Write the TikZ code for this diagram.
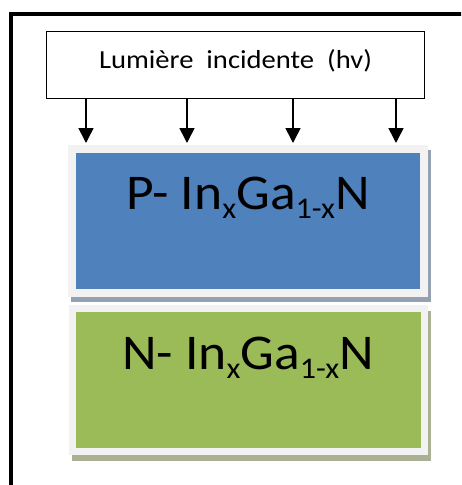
\documentclass[tikz,border=0pt]{standalone}
\usepackage{fontspec}
\setmainfont{Carlito}
\newfontfamily\lightfont[FakeStretch=1.1]{Carlito}
\newfontfamily\layerfont[FakeStretch=1.07]{Carlito}
\usetikzlibrary{arrows.meta,shadows}

\definecolor{ptype}{HTML}{4F81BD}
\definecolor{ntype}{HTML}{9BBB59}
\definecolor{layerframe}{HTML}{F2F2F2}
\definecolor{pshade}{HTML}{95A1B1}
\definecolor{nshade}{HTML}{A9B093}

\newcommand{\lowidx}[1]{\raisebox{-9pt}{\fontsize{30}{30}\selectfont #1}}

\begin{document}
\begin{tikzpicture}[
            x=1pt, y=-1pt,
            >={Triangle[length=15pt,width=15pt]},
            lightbox/.style={draw, line width=1.2pt, minimum width=378pt, minimum height=67pt, inner sep=0pt, text height=16.7pt, text depth=10.7pt, font=\lightfont\fontsize{26}{26}\selectfont},
            layerbox/.style={draw=layerframe, line width=8pt, minimum width=352pt, minimum height=144pt, inner sep=0pt},
            layertext/.style={anchor=base, inner sep=0pt, font=\layerfont\fontsize{50}{50}\selectfont},
            ray/.style={->, line width=1.6pt, shorten >=2pt}
        ]
        \useasboundingbox (0,0) rectangle (461,485);

        %Frame

        \begin{scope}
            \clip (0,0) rectangle (461,485);
            \draw[line width=4.5pt] (11,495) |- (470,14);
        \end{scope}

        %% Incident light

        \node[lightbox] (light) at (235.5,65) {Lumière\ \ incidente\ \ (hv)};

        %% Layers

        \node[layerbox, fill=ptype, general shadow={fill=pshade, draw=pshade, line width=8pt, shadow xshift=3pt, shadow yshift=-5pt}] (player) at (248,221) {};
        \node[layertext] (ptext) at ([yshift=-64pt]player.north) {P- In\lowidx{x}Ga\lowidx{1-x}N};

        \node[layerbox, fill=ntype, minimum height=143pt, line width=7pt, general shadow={fill=nshade, draw=nshade, line width=7pt, shadow xshift=3pt, shadow yshift=-6pt}] (nlayer) at (248,380) {};
        \node[layertext] (ntext) at ([yshift=-64pt]nlayer.north) {N- In\lowidx{x}Ga\lowidx{1-x}N};

        %% Rays

        \foreach \xpos [count=\i] in {86,187,293,396} {
            \coordinate (ray\i) at (\xpos,0);
            \draw[ray] (light.south -| ray\i) -- (player.north -| ray\i);
        }

    \end{tikzpicture}
\end{document}
